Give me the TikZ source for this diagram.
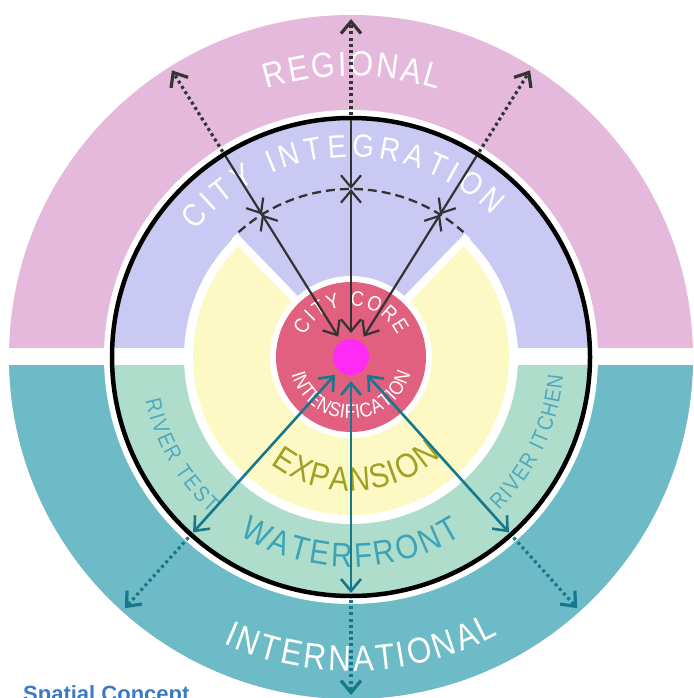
\documentclass[tikz,border=0pt]{standalone}
\usepackage{fontspec}
\setmainfont{Liberation Sans}
\newfontfamily\condfont[FakeStretch=0.87]{Liberation Sans}
\usetikzlibrary{decorations.text,arrows.meta}
\definecolor{cpink}{HTML}{E4B9DC}
\definecolor{clav}{HTML}{C9C9F4}
\definecolor{cyel}{HTML}{FDF9C4}
\definecolor{cteal}{HTML}{6DBBC7}
\definecolor{cgreen}{HTML}{AFDDCB}
\definecolor{cred}{HTML}{E1607F}
\definecolor{cmag}{HTML}{FF2BF4}
\definecolor{cdark}{HTML}{333333}
\definecolor{carrow}{HTML}{17788B}
\definecolor{cexp}{HTML}{A0A025}
\definecolor{cwater}{HTML}{3DA4B7}
\definecolor{criver}{HTML}{4EA9BF}
\definecolor{cblue}{HTML}{3B7BC4}
\tikzset{
  blk/.style={cdark, line width=2.2pt},
  blkdot/.style={cdark, line width=3.2pt, dash pattern=on 3pt off 3.2pt},
  tl/.style={carrow, line width=2.6pt},
  tldot/.style={carrow, line width=3.2pt, dash pattern=on 3pt off 3.2pt},
  >={Straight Barb[length=12pt,width=20pt]}
}
\begin{document}
\begin{tikzpicture}[x=1pt,y=1pt]
\useasboundingbox (0,0) rectangle (693,-698);
\fill[white] (0,0) rectangle (693,-698);
\begin{scope}[shift={(351,-357)}]
  % outer ring
  \fill[cpink] (0,0) circle (342);
  \begin{scope}
    \clip (-400,0) rectangle (400,-400);
    \fill[cteal] (0,0) circle (342);
  \end{scope}
  \fill[white] (0,0) circle (247);
  % middle ring
  \fill[clav] (0,0) circle (237);
  \begin{scope}
    \clip (-400,0) rectangle (400,-400);
    \fill[cgreen] (0,0) circle (237);
  \end{scope}
  \fill[white] (-400,-8) rectangle (400,9);
  \draw[black, line width=4.5pt] (0,0) circle (239);
  \fill[white] (0,0) circle (167);
  % wedge and expansion ring
  \fill[clav] (0,0) -- (46:167) arc[start angle=46, end angle=134, radius=167] -- cycle;
  \fill[cyel] (0,0) -- (134:158) arc[start angle=134, end angle=406, radius=158] -- cycle;
  \draw[white, line width=8pt] (134:78) -- (134:168);
  \draw[white, line width=8pt] (46:78) -- (46:168);
  \fill[white] (0,0) circle (81);
  \fill[cred] (0,0) circle (75);
  \fill[cmag] (0,0) circle (18);
  % dashed arc
  \draw[cdark, line width=2.3pt, dash pattern=on 9pt off 5pt] (132:168) arc[start angle=132, end angle=48, radius=168];
  % texts
  \path[decorate,decoration={text along path,text align={fit to path},
    text={|\condfont\fontsize{35}{35}\selectfont\color{white}|REGIONAL}}]
    (107.5:281) arc[start angle=107.5, end angle=72, radius=281];
  \path[decorate,decoration={text along path,text align={fit to path},
    text={|\condfont\fontsize{32}{32}\selectfont\color{white}|CITY INTEGRATION}}]
    (141:200) arc[start angle=141, end angle=45, radius=200];
  \path[decorate,decoration={text along path,text align={fit to path},
    text={|\condfont\fontsize{21}{21}\selectfont\color{white}|CITY CORE}}]
    (155:51) arc[start angle=155, end angle=25, radius=51];
  \path[decorate,decoration={text along path,text align={fit to path},
    text={|\condfont\fontsize{20}{20}\selectfont\color{white}|INTENSIFICATION}}]
    (196:62) arc[start angle=196, end angle=344, radius=62];
  \path[decorate,decoration={text along path,text align={fit to path},
    text={|\condfont\fontsize{34}{34}\selectfont\color{cexp}|EXPANSION}}]
    (233:134) arc[start angle=233, end angle=312, radius=134];
  \path[decorate,decoration={text along path,text align={fit to path},
    text={|\condfont\fontsize{34}{34}\selectfont\color{cwater}|WATERFRONT}}]
    (238:210) arc[start angle=238, end angle=302, radius=210];
  \path[decorate,decoration={text along path,text align={fit to path},
    text={|\condfont\fontsize{22}{22}\selectfont\color{criver}|RIVER TEST}}]
    (192:210) arc[start angle=192, end angle=228, radius=210];
  \path[decorate,decoration={text along path,text align={fit to path},
    text={|\condfont\fontsize{22}{22}\selectfont\color{criver}|RIVER ITCHEN}}]
    (314:213) arc[start angle=314, end angle=355, radius=213];
  \path[decorate,decoration={text along path,text align={fit to path},
    text={|\condfont\fontsize{36}{36}\selectfont\color{white}|INTERNATIONAL}}]
    (246:314) arc[start angle=246, end angle=298, radius=314];
  % coordinates
  \foreach \a/\n in {122/L,90/M,58/R}{
    \coordinate (bin\n) at (\a:24);
    \coordinate (bx\n) at (\a:168);
    \coordinate (bc\n) at (\a:237);
    \coordinate (bo\n) at (\a:242);
    \coordinate (bt\n) at (\a:338);
  }
  \foreach \a/\n in {228/L,270/M,312/R}{
    \coordinate (tin\n) at (\a:24);
    \coordinate (tc\n) at (\a:236);
    \coordinate (to\n) at (\a:243);
    \coordinate (tt\n) at (\a:338);
  }
  % black arrows
  \foreach \n in {L,M,R}{
    \draw[blk,<->] (bin\n) -- (bx\n);
    \draw[blk,->] (bc\n) -- (bx\n);
    \draw[blkdot,->] (bo\n) -- (bt\n);
  }
  % teal arrows
  \foreach \n in {L,M,R}{
    \draw[tl,<->] (tin\n) -- (tc\n);
    \draw[tldot,->] (to\n) -- (tt\n);
  }
\end{scope}
\node[anchor=base west, inner sep=0pt, text=cblue, font=\bfseries\fontsize{22}{22}\selectfont] (title) at (23,-701) {Spatial Concept};
\end{tikzpicture}
\end{document}
